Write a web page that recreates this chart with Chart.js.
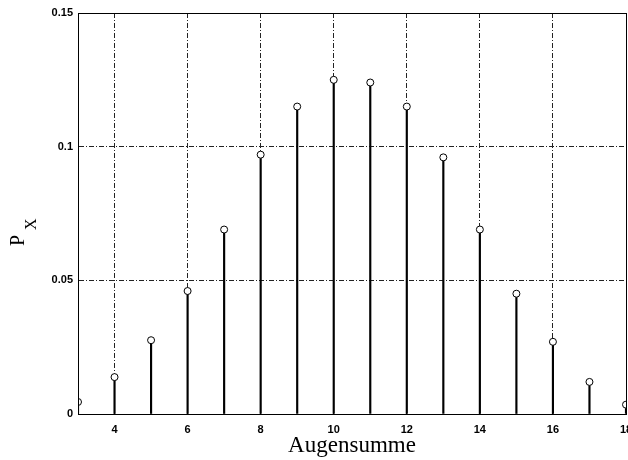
<!DOCTYPE html>
<html>
<head>
<meta charset="utf-8">
<script src="https://cdn.jsdelivr.net/npm/chart.js@4"></script>
<style>
  html, body { margin: 0; padding: 0; background: #fff; overflow: hidden; }
  #wrap { width: 628px; height: 460px; overflow: hidden; }
</style>
</head>
<body>
<div id="wrap"><canvas id="chart" width="631" height="460"></canvas></div>
<script>
// Augensumme (sum of three dice) and its probability
var sums = [3, 4, 5, 6, 7, 8, 9, 10, 11, 12, 13, 14, 15, 16, 17, 18];
var px = [0.0045, 0.0138, 0.0276, 0.046, 0.069, 0.097, 0.115, 0.125,
          0.124, 0.115, 0.096, 0.069, 0.045, 0.027, 0.012, 0.0035];
var xTicks = [4, 6, 8, 10, 12, 14, 16, 18];
var yTicks = [0, 0.05, 0.1, 0.15];

var points = sums.map(function(s, i) { return {x: s, y: px[i]} });

// frame round the plot + rotated "P_X" label
var frame = {
  id: 'frame',
  afterDraw: function(chart) {
    var ctx = chart.ctx, a = chart.chartArea;
    ctx.save();
    ctx.strokeStyle = '#000';
    ctx.lineWidth = 1;
    ctx.strokeRect(a.left + 0.5, a.top + 0.5, a.right - a.left, a.bottom - a.top);
    ctx.translate(24, 232);
    ctx.rotate(-Math.PI / 2);
    ctx.fillStyle = '#000';
    ctx.textBaseline = 'alphabetic';
    ctx.font = '20px "Liberation Serif", serif';
    ctx.fillText('P', -14, 0);
    ctx.font = '16px "Liberation Serif", serif';
    ctx.fillText('X', 2, 12);
    ctx.restore();
  }
};

var ctx = document.getElementById('chart').getContext('2d');
var chart = new Chart(ctx, {
  type: 'bar',
  data: {
    datasets: [{
      type: 'line',
      data: points,
      showLine: false,
      pointRadius: 3.5,
      pointBorderWidth: 1,
      pointBorderColor: '#000',
      pointBackgroundColor: '#fff'
    }, {
      type: 'bar',
      data: points,
      backgroundColor: '#000',
      barThickness: 1.5
    }]
  },
  options: {
    responsive: false,
    animation: false,
    layout: { padding: { top: 13, right: 0, left: 0, bottom: 0 } },
    plugins: { legend: { display: false }, tooltip: { enabled: false } },
    scales: {
      x: {
        type: 'linear',
        min: 3, max: 18,
        offset: false,
        afterBuildTicks: function(s) { s.ticks = xTicks.map(function(v) { return {value: v} }) },
        afterFit: function(s) { s.height = 46; s.paddingRight = 0; s.paddingLeft = 0 },
        grid: { color: '#222', lineWidth: 1, drawTicks: false, offset: false },
        border: { display: true, color: '#000', dash: [5, 2, 1, 2] },
        ticks: {
          padding: 9, color: '#000', maxRotation: 0, autoSkip: false,
          font: { family: '"Liberation Sans", Arial, sans-serif', size: 11, weight: 'bold' }
        },
        title: {
          display: true, text: 'Augensumme', color: '#000', padding: { top: 0, bottom: 0 },
          font: { family: '"Liberation Serif", serif', size: 23 }
        }
      },
      y: {
        min: 0, max: 0.15,
        afterBuildTicks: function(s) { s.ticks = yTicks.map(function(v) { return {value: v} }) },
        afterFit: function(s) { s.width = 78 },
        grid: { color: '#222', lineWidth: 1, drawTicks: false },
        border: { display: true, color: '#000', dash: [5, 2, 1, 2] },
        ticks: {
          padding: 5, color: '#000',
          callback: function(v) { return String(v) },
          font: { family: '"Liberation Sans", Arial, sans-serif', size: 11, weight: 'bold' }
        }
      }
    }
  },
  plugins: [frame]
});
</script>
</body>
</html>
